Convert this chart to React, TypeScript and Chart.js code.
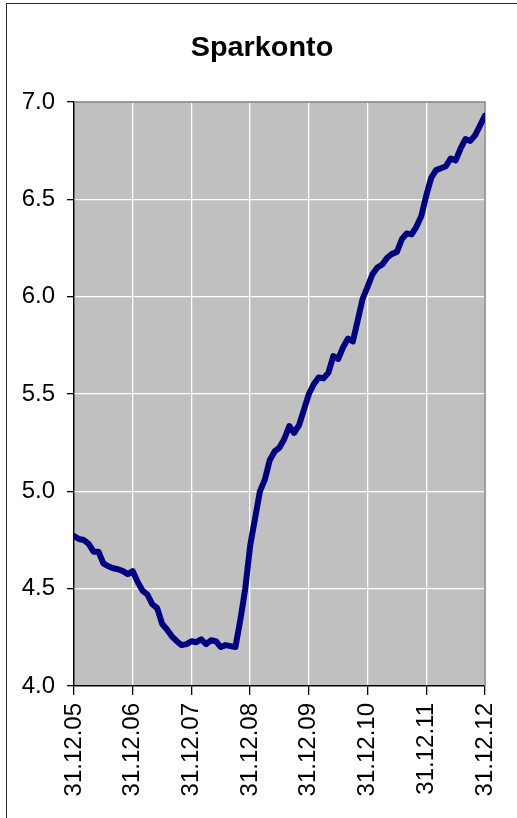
import React, { useEffect, useRef } from "react";
import { Chart, registerables } from "chart.js";

Chart.register(...registerables);

const title = "Sparkonto";
const xTickLabels = ["31.12.05", "31.12.06", "31.12.07", "31.12.08", "31.12.09", "31.12.10", "31.12.11", "31.12.12"];
const yMin = 4.0;
const yMax = 7.0;
const yStep = 0.5;
// monthly values from 31.12.05 (index 0) to 31.12.12 (index 84)
const values = [
  4.77, 4.755, 4.75, 4.73, 4.69, 4.69, 4.63, 4.615, 4.605, 4.6, 4.59, 4.575,
  4.59, 4.535, 4.49, 4.47, 4.42, 4.4, 4.32, 4.29, 4.255, 4.23, 4.21, 4.215,
  4.23, 4.225, 4.24, 4.215, 4.235, 4.23, 4.2, 4.21, 4.205, 4.2, 4.34, 4.5,
  4.72, 4.86, 5.0, 5.06, 5.16, 5.205, 5.225, 5.27, 5.335, 5.3, 5.34, 5.42,
  5.5, 5.55, 5.585, 5.58, 5.61, 5.695, 5.68, 5.74, 5.785, 5.77, 5.88, 5.99,
  6.05, 6.115, 6.15, 6.165, 6.2, 6.22, 6.23, 6.295, 6.325, 6.32, 6.36, 6.415,
  6.52, 6.61, 6.65, 6.66, 6.67, 6.71, 6.7, 6.76, 6.81, 6.8, 6.83, 6.88,
  6.93,
];
const monthsPerTick = 12;

const FONT = "'Liberation Sans', Arial, Helvetica, sans-serif";

const plotFrame = {
  id: "plotFrame",
  beforeDraw(chart: any) {
    const { ctx, chartArea } = chart;
    ctx.save();
    ctx.fillStyle = "#c0c0c0";
    ctx.fillRect(chartArea.left, chartArea.top, chartArea.right - chartArea.left, chartArea.bottom - chartArea.top);
    ctx.restore();
  },
  beforeDatasetsDraw(chart: any) {
    const { ctx, chartArea } = chart;
    ctx.save();
    ctx.strokeStyle = "#808080";
    ctx.lineWidth = 1.5;
    ctx.beginPath();
    ctx.moveTo(chartArea.left, chartArea.top);
    ctx.lineTo(chartArea.right, chartArea.top);
    ctx.lineTo(chartArea.right, chartArea.bottom);
    ctx.stroke();
    ctx.restore();
  },
};

export default function App() {
  const ref = useRef<HTMLCanvasElement | null>(null);

  useEffect(() => {
    if (!ref.current) return;
    const points = values.map((v, i) => ({ x: i, y: v }));
    const chart = new Chart(ref.current, {
      type: "line",
      data: {
        datasets: [
          {
            label: title,
            data: points,
            borderColor: "#000080",
            borderWidth: 6,
            pointRadius: 0,
            tension: 0,
            borderJoinStyle: "round",
            borderCapStyle: "round",
            fill: false,
          },
        ],
      },
      options: {
        responsive: false,
        animation: false,
        devicePixelRatio: 1,
        layout: { padding: { left: 0, right: 32, top: 102, bottom: 0 } },
        plugins: {
          legend: { display: false },
          tooltip: { enabled: false },
          title: { display: false },
        },
        scales: {
          x: {
            type: "linear",
            min: 0,
            max: (xTickLabels.length - 1) * monthsPerTick,
            afterFit: (s: any) => {
              s.height = 132;
              s.paddingLeft = 0;
              s.paddingRight = 0;
            },
            afterBuildTicks: (s: any) => {
              s.ticks = xTickLabels.map((_, i) => ({ value: i * monthsPerTick }));
            },
            ticks: {
              autoSkip: false,
              maxRotation: 90,
              minRotation: 90,
              padding: 8,
              color: "#000",
              font: { family: FONT, size: 24 },
              callback: (v: any) => xTickLabels[Math.round(Number(v) / monthsPerTick)] ?? "",
            },
            grid: {
              color: "#ffffff",
              lineWidth: 1.3,
              tickColor: "#000",
              tickLength: 9,
              drawOnChartArea: true,
            },
            border: { color: "#000", width: 1.5 },
          },
          y: {
            min: yMin,
            max: yMax,
            afterFit: (s: any) => {
              s.width = 74;
              s.paddingTop = 0;
              s.paddingBottom = 0;
            },
            ticks: {
              stepSize: yStep,
              padding: 12,
              color: "#000",
              font: { family: FONT, size: 24 },
              callback: (v: any) => Number(v).toFixed(1),
            },
            grid: {
              color: "#ffffff",
              lineWidth: 1.3,
              tickColor: "#000",
              tickLength: 7,
            },
            border: { color: "#000", width: 1.5 },
          },
        },
      },
      plugins: [plotFrame],
    });
    return () => chart.destroy();
  }, []);

  return (
    <div style={{ position: "absolute", left: 0, top: 0, width: 517, height: 818, background: "#fff", overflow: "hidden" }}>
      <div
        style={{
          position: "absolute",
          left: 6,
          top: 3,
          width: 517 - 6,
          height: 818 - 3,
          borderLeft: "1px solid #2a2a2a",
          borderTop: "1px solid #2a2a2a",
          boxSizing: "border-box",
        }}
      />
      <canvas ref={ref} width={517} height={818} style={{ position: "absolute", left: 0, top: 0, width: 517, height: 818 }} />
      <div
        style={{
          position: "absolute",
          left: 161.5,
          top: 33,
          width: 200,
          textAlign: "center",
          fontFamily: FONT,
          fontWeight: "bold",
          fontSize: 28,
          lineHeight: "28px",
          color: "#000",
          whiteSpace: "nowrap",
          transform: "scaleX(1.03)",
        }}
      >
        {title}
      </div>
    </div>
  );
}
